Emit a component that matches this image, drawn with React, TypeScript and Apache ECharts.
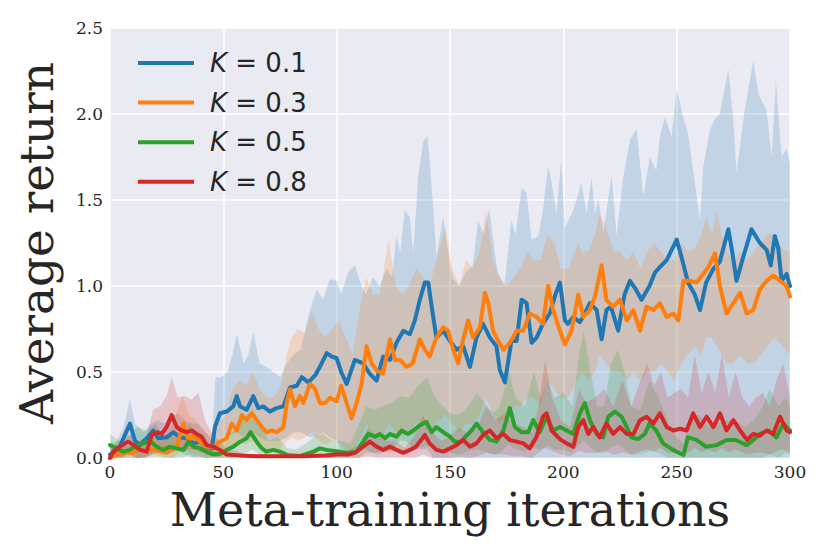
import React, { useEffect, useRef } from "react";
import * as echarts from "echarts";

// ---- data: [iteration, mean] ----
const names = ["K = 0.1", "K = 0.3", "K = 0.5", "K = 0.8"];
const colors = ["#1f77b4", "#ff7f0e", "#2ca02c", "#d62728"];
const xTicks = [0, 50, 100, 150, 200, 250, 300];
const yTicks = [0, 0.5, 1.0, 1.5, 2.0, 2.5];

const meanK01 = [
  [0, 0.02], [1.5, 0.03], [4.4, 0.07], [8.8, 0.2], [11, 0.1], [13.2, 0.075], [16.2, 0.115], [19.1, 0.16],
  [21.3, 0.115], [25, 0.12], [28, 0.15], [30.9, 0.12], [33.8, 0.115], [36.8, 0.085], [39.7, 0.095], [42.6, 0.066],
  [44.9, 0.056], [46.3, 0.18], [48.5, 0.26], [51.5, 0.27], [54.4, 0.3], [55.9, 0.36], [57.4, 0.3], [60.3, 0.28],
  [63.2, 0.36], [65.4, 0.29], [67.6, 0.3], [70.6, 0.27], [73.5, 0.29], [76.5, 0.3], [79.4, 0.41], [82.4, 0.42],
  [84.6, 0.47], [87.5, 0.44], [90.5, 0.48], [92.6, 0.53], [95.6, 0.61], [97.8, 0.59], [100, 0.58], [102, 0.5],
  [104.4, 0.43], [108, 0.57], [111.7, 0.55], [114.6, 0.49], [117.6, 0.45], [120.5, 0.59], [123.5, 0.57], [126.4, 0.67],
  [129.4, 0.74], [132.3, 0.72], [134.5, 0.8], [136.7, 0.92], [138.9, 1.02], [140.4, 1.02], [142.6, 0.82], [144, 0.7],
  [147, 0.74], [150, 0.68], [152.9, 0.63], [155.8, 0.65], [158.8, 0.53], [161.7, 0.7], [164.6, 0.78], [167.6, 0.7],
  [170.5, 0.65], [172, 0.51], [174.2, 0.44], [177.1, 0.68], [179.4, 0.68], [181.6, 0.92], [183.8, 0.9], [186, 0.67],
  [188.2, 0.7], [191, 0.78], [194, 0.84], [196.5, 0.95], [198.5, 1.02], [200.7, 0.8], [202, 0.78], [204.4, 0.82],
  [207.3, 0.79], [209.5, 0.84], [211.7, 0.9], [214.7, 0.86], [216.9, 0.69], [219, 0.86], [221, 0.88], [224.2, 0.74],
  [227, 0.95], [229.4, 1.03], [232, 0.98], [234.5, 0.92], [238, 1.0], [240.5, 1.08], [242.6, 1.11], [245.6, 1.15],
  [250, 1.27], [252.5, 1.15], [255, 1.02], [258, 0.95], [260.3, 0.86], [263, 1.02], [266.2, 1.1], [269, 1.14],
  [272.8, 1.33], [274.5, 1.2], [276.4, 1.03], [279.4, 1.17], [283, 1.33], [286.7, 1.25], [289.7, 1.21], [291.5, 1.12],
  [293.3, 1.29], [294.8, 1.22], [296.3, 1.03], [298.5, 1.07], [300, 1.0],
];

const meanK03 = [
  [0, 0.0], [3, 0.02], [7, 0.03], [10, 0.03], [13, 0.05], [16, 0.04], [19, 0.05], [22, 0.04], [25, 0.03],
  [29.4, 0.066], [32.4, 0.2], [34.6, 0.1], [36.8, 0.13], [39.7, 0.095], [42.6, 0.066], [45.6, 0.066], [48.5, 0.095],
  [51.5, 0.115], [53.7, 0.2], [56, 0.16], [58.1, 0.25], [60.3, 0.22], [62.5, 0.26], [64.7, 0.22], [67, 0.18],
  [69.1, 0.15], [71.3, 0.16], [73.5, 0.15], [76.5, 0.18], [78, 0.32], [79.4, 0.4], [81.6, 0.3], [83.8, 0.36],
  [85.3, 0.32], [88.2, 0.43], [90.5, 0.4], [92.6, 0.32], [94.9, 0.32], [97, 0.35], [100, 0.33], [102, 0.42],
  [104.4, 0.32], [106.6, 0.23], [108.8, 0.32], [111, 0.43], [113.2, 0.65], [115.4, 0.55], [117.6, 0.51], [120.5, 0.49],
  [123.5, 0.69], [125.7, 0.57], [128, 0.57], [130.8, 0.53], [133.5, 0.55], [136.7, 0.69], [138.9, 0.63], [141, 0.59],
  [144, 0.7], [147, 0.76], [149.2, 0.74], [151.4, 0.63], [153.6, 0.55], [155.8, 0.69], [158, 0.8], [160.2, 0.7],
  [163.2, 0.76], [165.4, 0.96], [166.9, 0.9], [169, 0.74], [171.3, 0.68], [173.5, 0.63], [176.4, 0.67], [179.4, 0.74],
  [182.3, 0.74], [185.2, 0.84], [188.2, 0.82], [191, 0.78], [193.3, 1.0], [195.5, 0.86], [198.5, 0.74], [200.7, 0.66],
  [203.6, 0.74], [206.6, 0.95], [208.8, 0.82], [211.7, 0.86], [214, 0.94], [216.9, 1.12], [219, 0.92], [222, 0.88],
  [225, 0.92], [228, 0.8], [230.9, 0.86], [233.8, 0.74], [236.7, 0.88], [239.7, 0.86], [242.6, 0.9], [245.6, 0.82],
  [248.5, 0.84], [250.7, 0.8], [253, 1.03], [255.8, 1.03], [258.8, 1.02], [261.7, 1.07], [264, 1.11], [266.9, 1.19],
  [269.1, 1.0], [272, 0.84], [275, 0.9], [278, 0.96], [280.9, 0.84], [283.8, 0.86], [286.7, 0.98], [289.7, 1.03],
  [292.6, 1.06], [295.6, 1.03], [298.5, 1.0], [300, 0.94],
];

const meanK05 = [
  [0, 0.075], [3, 0.056], [6, 0.037], [8.8, 0.047], [11.8, 0.075], [14.7, 0.085], [17.6, 0.1], [20.6, 0.066],
  [23.5, 0.047], [26.5, 0.066], [29.4, 0.056], [32.4, 0.047], [34.6, 0.095], [36.8, 0.066], [39.7, 0.056], [42.6, 0.037],
  [45.6, 0.02], [48.5, 0.025], [51.5, 0.047], [54.4, 0.066], [57.4, 0.095], [60.3, 0.115], [62, 0.15], [64.7, 0.095],
  [67, 0.056], [69, 0.037], [72, 0.047], [75, 0.037], [78, 0.018], [83.8, 0.012], [89.7, 0.037], [92.6, 0.056],
  [95.5, 0.047], [100, 0.04], [104.4, 0.03], [108.8, 0.037], [111.7, 0.095], [114, 0.14], [116.9, 0.124], [119, 0.14],
  [121.3, 0.115], [123.5, 0.14], [126.4, 0.124], [128.6, 0.16], [131.5, 0.14], [133.8, 0.16], [136.7, 0.19], [139.6, 0.21],
  [141.9, 0.15], [144, 0.18], [147, 0.15], [150, 0.124], [152, 0.095], [155, 0.095], [157.3, 0.13], [159.5, 0.16],
  [161.7, 0.2], [164.6, 0.15], [167.6, 0.105], [170.5, 0.095], [173.5, 0.16], [176.4, 0.29], [178.6, 0.18], [181.6, 0.15],
  [184.5, 0.15], [186.7, 0.22], [189.6, 0.15], [192.6, 0.24], [195.5, 0.16], [198.5, 0.18], [201.4, 0.16], [204.4, 0.14],
  [207.3, 0.26], [209.5, 0.32], [211.7, 0.22], [214.7, 0.14], [217.6, 0.12], [219.8, 0.24], [222.8, 0.27], [225.7, 0.24],
  [228, 0.18], [230, 0.12], [233, 0.11], [236, 0.14], [238, 0.2], [241, 0.16], [244, 0.085], [248.5, 0.046],
  [253, 0.017], [255, 0.12], [258.8, 0.105], [263, 0.065], [267.6, 0.075], [272, 0.105], [276, 0.105], [280.9, 0.075],
  [283.8, 0.105], [286.7, 0.14], [290.4, 0.16], [294, 0.12], [297, 0.2], [300, 0.16],
];

const meanK08 = [
  [0, 0.0], [1.5, 0.037], [4.4, 0.066], [8, 0.095], [10.5, 0.075], [13.2, 0.047], [16.2, 0.037], [18.4, 0.134],
  [20.6, 0.15], [22.8, 0.14], [25, 0.18], [27.2, 0.25], [29.4, 0.18], [31.6, 0.16], [33.8, 0.15], [36, 0.16],
  [38.2, 0.14], [40.4, 0.124], [42.6, 0.075], [45.6, 0.066], [48.5, 0.047], [51.5, 0.02], [57.4, 0.015], [65, 0.01],
  [75, 0.01], [85, 0.01], [95, 0.015], [100, 0.02], [105, 0.02], [108, 0.03], [111.7, 0.066], [114.6, 0.095],
  [117.6, 0.066], [120.5, 0.047], [123.5, 0.066], [126.4, 0.047], [129.4, 0.03], [132.3, 0.047], [135, 0.066], [138.9, 0.134],
  [141, 0.085], [144, 0.047], [147, 0.037], [150, 0.056], [152.9, 0.075], [155.8, 0.105], [158.8, 0.066], [161.7, 0.085],
  [164.6, 0.134], [167.6, 0.16], [170.5, 0.115], [173.5, 0.14], [176.4, 0.105], [179.4, 0.095], [182.3, 0.085], [185.2, 0.056],
  [188.2, 0.124], [191, 0.24], [192.6, 0.26], [194.8, 0.16], [198.5, 0.11], [201.4, 0.085], [204.4, 0.065], [206.6, 0.18],
  [208.8, 0.22], [211, 0.14], [213.2, 0.18], [216, 0.12], [219, 0.2], [222, 0.14], [225, 0.18], [228, 0.14],
  [231, 0.14], [233.8, 0.22], [236.7, 0.24], [239.7, 0.2], [242.6, 0.26], [245.6, 0.18], [248.5, 0.16], [251.5, 0.17],
  [254.4, 0.16], [257.3, 0.26], [260.3, 0.18], [263.2, 0.24], [266.2, 0.18], [269.1, 0.26], [272, 0.16], [275, 0.22],
  [278, 0.16], [281, 0.105], [283.8, 0.14], [286.7, 0.13], [289.7, 0.16], [292.6, 0.14], [295.6, 0.24], [298.5, 0.16], [300, 0.15],
];

// ---- confidence bands: [iteration, low, high] ----
const bandK01 = [
  [0, 0, 0.08], [3, 0, 0.1], [6, 0, 0.18], [8.8, 0.05, 0.34], [11, 0, 0.2], [15, 0, 0.15], [18, 0.02, 0.2],
  [21, 0.03, 0.22], [24, 0.02, 0.2], [27, 0.03, 0.24], [30, 0.04, 0.26], [33, 0.02, 0.22], [36, 0, 0.2], [39, 0.01, 0.2],
  [42, 0, 0.15], [45, 0, 0.1], [46.5, 0.04, 0.47], [49, 0.12, 0.47], [52, 0.12, 0.5], [54, 0.14, 0.6], [56, 0.15, 0.72],
  [59, 0.12, 0.55], [61, 0.12, 0.6], [63.2, 0.15, 0.73], [66, 0.12, 0.55], [69, 0.1, 0.53], [72, 0.1, 0.5], [75, 0.1, 0.47],
  [78, 0.12, 0.55], [81, 0.15, 0.6], [84, 0.15, 0.63], [88.2, 0.12, 0.86], [91.2, 0.12, 0.98], [94, 0.15, 0.92],
  [97, 0.12, 1.04], [100, 0.1, 1.03], [102, 0.05, 0.95], [105, 0.03, 1.08], [108, 0.05, 1.12], [111, 0.08, 1.0],
  [113, 0.05, 0.95], [116, 0.03, 1.05], [119, 0.02, 1.0], [122, 0.04, 1.1], [124.5, 0.05, 1.05], [126.4, 0.08, 1.29],
  [128, 0.1, 1.19], [130, 0.1, 1.44], [132.3, 0.08, 1.4], [133.8, 0.05, 1.19], [136, 0.05, 1.64], [138.2, 0.05, 1.84],
  [140, 0.05, 1.87], [141, 0.03, 1.73], [142.6, 0, 1.46], [144, 0, 1.17], [147, 0, 1.4], [149.2, 0, 1.19], [151, 0, 1.05],
  [154, 0, 1.0], [157, 0, 1.08], [160, 0, 1.12], [162.4, 0, 1.38], [165, 0, 1.3], [167.3, 0, 1.45], [169, 0, 1.27],
  [171, 0, 1.08], [174, 0, 1.0], [177, 0, 1.38], [179, 0, 1.3], [181.6, 0, 1.57], [183.8, 0, 1.54], [186, 0, 1.27],
  [189, 0, 1.29], [191, 0, 1.44], [193.3, 0, 1.7], [194.8, 0, 1.6], [197, 0, 1.42], [199, 0, 1.73], [200.7, 0, 1.34],
  [204.4, 0, 1.44], [208, 0, 1.6], [210.3, 0, 1.42], [212.5, 0, 1.63], [214, 0, 1.42], [215.4, 0, 1.51], [217.6, 0, 1.31],
  [221.3, 0, 1.64], [223.5, 0, 1.29], [226.4, 0, 1.63], [229.4, 0, 1.85], [232.3, 0, 1.91], [235.3, 0, 1.52],
  [238.2, 0, 1.75], [241, 0, 1.67], [242.6, 0, 1.87], [244.8, 0, 1.98], [247.8, 0, 1.87], [250, 0, 2.15], [252.9, 0, 1.98],
  [255, 0, 1.89], [257.3, 0, 1.67], [260.3, 0, 1.38], [261.7, 0, 1.69], [264.7, 0, 1.91], [266.9, 0, 1.97], [269, 0, 2.0],
  [272.8, 0, 2.26], [275, 0, 1.96], [276.4, 0, 1.66], [280, 0, 2.02], [283.8, 0, 2.31], [286, 0, 2.12], [288.2, 0, 2.06],
  [289.7, 0, 2.02], [291.9, 0, 1.75], [293.8, 0, 2.19], [296.3, 0, 1.75], [298.5, 0, 1.8], [300, 0, 1.71],
];

const bandK03 = [
  [0, 0, 0.05], [5, 0, 0.06], [10, 0, 0.08], [15, 0, 0.1], [20, 0, 0.12], [25, 0, 0.15], [28, 0, 0.22], [32, 0.05, 0.36],
  [35, 0.03, 0.25], [38, 0.02, 0.22], [42, 0, 0.15], [45, 0, 0.12], [48, 0, 0.2], [51, 0.02, 0.25], [54, 0.05, 0.4],
  [57, 0.08, 0.45], [60, 0.08, 0.42], [63, 0.1, 0.5], [66, 0.05, 0.4], [69, 0.03, 0.35], [72, 0.05, 0.35], [75, 0.05, 0.4],
  [78, 0.1, 0.6], [80, 0.12, 0.7], [83, 0.1, 0.75], [86, 0.12, 0.72], [89, 0.15, 0.85], [92, 0.1, 0.75], [95, 0.08, 0.7],
  [98, 0.1, 0.75], [101, 0.1, 0.8], [104, 0.05, 0.7], [107, 0.03, 0.6], [110, 0.1, 0.85], [113, 0.2, 1.05], [116, 0.15, 0.95],
  [119, 0.1, 0.95], [123, 0.2, 1.27], [126, 0.15, 1.0], [129, 0.12, 0.95], [132, 0.15, 1.0], [135, 0.2, 1.1], [138, 0.2, 1.05],
  [141, 0.15, 1.0], [144, 0.2, 1.15], [148, 0.25, 1.34], [151, 0.2, 1.1], [154, 0.15, 1.0], [157, 0.2, 1.15], [160, 0.2, 1.1],
  [163, 0.25, 1.2], [166, 0.35, 1.44], [169, 0.25, 1.15], [172, 0.2, 1.05], [175, 0.25, 1.0], [178, 0.3, 1.05], [181, 0.3, 1.1],
  [184, 0.35, 1.2], [187, 0.35, 1.15], [190, 0.3, 1.15], [193, 0.45, 1.3], [196, 0.4, 1.25], [199, 0.35, 1.1], [202, 0.35, 1.1],
  [206.6, 0.45, 1.25], [208, 0.5, 1.2], [211, 0.45, 1.2], [214, 0.5, 1.3], [216, 0.6, 1.42], [219, 0.55, 1.34], [222, 0.5, 1.2],
  [225, 0.5, 1.2], [228, 0.45, 1.15], [231, 0.5, 1.2], [234, 0.45, 1.1], [237, 0.5, 1.2], [240, 0.5, 1.25], [243, 0.55, 1.2],
  [246, 0.5, 1.15], [249, 0.45, 1.15], [252, 0.55, 1.25], [255, 0.6, 1.2], [258, 0.65, 1.22], [261, 0.6, 1.3], [263, 0.7, 1.4],
  [265.5, 0.7, 1.3], [267.6, 0.65, 1.43], [270, 0.6, 1.3], [272, 0.55, 1.2], [275, 0.55, 1.15], [278, 0.6, 1.2], [281, 0.55, 1.15],
  [284, 0.55, 1.2], [287, 0.6, 1.25], [290, 0.65, 1.3], [293, 0.7, 1.3], [297, 0.65, 1.21], [300, 0.6, 1.2],
];

const bandK05 = [
  [0, 0, 0.14], [4, 0, 0.1], [8, 0, 0.12], [12, 0, 0.18], [16, 0.01, 0.16], [20, 0.02, 0.2], [24, 0, 0.12], [28, 0, 0.14],
  [32, 0, 0.12], [35, 0.02, 0.2], [38, 0, 0.14], [42, 0, 0.1], [46, 0, 0.06], [50, 0, 0.1], [54, 0, 0.15], [57, 0.02, 0.22],
  [60, 0.03, 0.25], [63, 0.05, 0.28], [66, 0.02, 0.2], [70, 0, 0.1], [74, 0, 0.12], [78, 0, 0.06], [82, 0, 0.05], [86, 0, 0.08],
  [90, 0, 0.12], [94, 0, 0.14], [98, 0, 0.1], [102, 0, 0.1], [106, 0, 0.08], [110, 0, 0.2], [113, 0.03, 0.3], [117, 0.03, 0.28],
  [120, 0.04, 0.3], [124, 0.03, 0.32], [128, 0.05, 0.36], [132, 0.04, 0.35], [136, 0.06, 0.42], [140, 0.07, 0.47], [143, 0.05, 0.36],
  [147, 0.04, 0.3], [150, 0.03, 0.26], [154, 0.02, 0.25], [158, 0.04, 0.3], [162, 0.05, 0.38], [165, 0.04, 0.32], [169, 0.02, 0.26],
  [172, 0.03, 0.3], [176, 0.08, 0.5], [179, 0.05, 0.35], [183, 0.04, 0.3], [187, 0.06, 0.5], [190, 0.05, 0.35], [193, 0.07, 0.45],
  [196, 0.05, 0.35], [200, 0.05, 0.38], [204, 0.03, 0.3], [207, 0.08, 0.6], [209, 0.1, 0.74], [212, 0.06, 0.5], [215, 0.03, 0.3],
  [218, 0.03, 0.3], [221, 0.06, 0.55], [224, 0.08, 0.63], [227, 0.05, 0.5], [230, 0.02, 0.3], [234, 0.02, 0.28], [238, 0.04, 0.45],
  [242, 0.03, 0.35], [246, 0, 0.22], [250, 0, 0.12], [253, 0, 0.08], [256, 0, 0.25], [260, 0, 0.25], [264, 0, 0.18], [268, 0, 0.2],
  [272, 0, 0.22], [276, 0, 0.22], [280, 0, 0.18], [284, 0, 0.22], [288, 0, 0.3], [291, 0.02, 0.4], [295, 0, 0.3], [298, 0.03, 0.35],
  [300, 0.02, 0.3],
];

const bandK08 = [
  [0, 0, 0.05], [4, 0, 0.1], [8, 0.02, 0.14], [12, 0, 0.1], [16, 0, 0.12], [19, 0.03, 0.28], [22, 0.04, 0.3], [25, 0.06, 0.36],
  [27.2, 0.08, 0.47], [30, 0.06, 0.35], [33, 0.05, 0.36], [36, 0.05, 0.34], [39, 0.04, 0.38], [42, 0.02, 0.22], [45, 0.01, 0.14],
  [48, 0, 0.1], [52, 0, 0.05], [56, 0, 0.04], [60, 0, 0.02], [70, 0, 0.02], [80, 0, 0.02], [90, 0, 0.02], [100, 0, 0.03],
  [105, 0, 0.04], [110, 0, 0.08], [114, 0.01, 0.18], [118, 0, 0.12], [122, 0, 0.1], [126, 0, 0.1], [130, 0, 0.06], [134, 0, 0.12],
  [138, 0.02, 0.25], [142, 0, 0.15], [146, 0, 0.1], [150, 0, 0.12], [154, 0.01, 0.18], [158, 0, 0.14], [162, 0.01, 0.18],
  [166, 0.03, 0.3], [170, 0.02, 0.22], [174, 0.02, 0.26], [178, 0.01, 0.2], [182, 0.01, 0.18], [186, 0, 0.15], [189, 0.03, 0.3],
  [192, 0.06, 0.57], [195, 0.04, 0.35], [199, 0.02, 0.22], [203, 0.01, 0.18], [207, 0.04, 0.4], [210, 0.03, 0.32], [214, 0.03, 0.35],
  [218, 0.04, 0.4], [222, 0.02, 0.3], [226, 0.03, 0.45], [230, 0.02, 0.3], [234, 0.04, 0.45], [237, 0.05, 0.55], [240, 0.04, 0.42],
  [243, 0.06, 0.5], [246, 0.03, 0.35], [249, 0.03, 0.38], [252, 0.04, 0.4], [255, 0.03, 0.35], [258, 0.06, 0.6], [261, 0.03, 0.38],
  [264, 0.05, 0.5], [267, 0.03, 0.38], [270, 0.06, 0.6], [273, 0.03, 0.35], [276, 0.05, 0.5], [279, 0.03, 0.35], [282, 0.02, 0.3],
  [285, 0.03, 0.35], [288, 0.03, 0.38], [291, 0.02, 0.3], [294, 0.04, 0.45], [297, 0.05, 0.55], [300, 0.03, 0.35],
];

const means = [meanK01, meanK03, meanK05, meanK08];
const bands = [bandK01, bandK03, bandK05, bandK08];

const TEXT = "#262626";
const SERIF = "DejaVu Serif";

function hexToRgba(hex: string, a: number) {
  const n = parseInt(hex.slice(1), 16);
  return `rgba(${(n >> 16) & 255},${(n >> 8) & 255},${n & 255},${a})`;
}

function bandSeries(band: number[][], color: string) {
  return {
    type: "custom",
    coordinateSystem: "cartesian2d",
    silent: true,
    clip: true,
    data: [[band[0][0], band[0][1]]],
    renderItem: (_params: any, api: any) => {
      const pts: number[][] = [];
      for (const [x, , hi] of band) pts.push(api.coord([x, hi]));
      for (let i = band.length - 1; i >= 0; i--) pts.push(api.coord([band[i][0], band[i][1]]));
      return {
        type: "polygon",
        shape: { points: pts },
        style: { fill: hexToRgba(color, 0.2), stroke: null },
      };
    },
  };
}

export default function App() {
  const ref = useRef<HTMLDivElement>(null);
  useEffect(() => {
    const chart = echarts.init(ref.current!, null, { renderer: "svg" });
    const series: any[] = [];
    means.forEach((m, i) => {
      series.push({
        name: names[i],
        type: "line",
        data: m,
        showSymbol: false,
        symbol: "none",
        lineStyle: { color: colors[i], width: 4, cap: "round", join: "round" },
        itemStyle: { color: colors[i] },
      });
      series.push(bandSeries(bands[i], colors[i]));
    });
    chart.setOption({
      animation: false,
      backgroundColor: "#ffffff",
      grid: { left: 110, top: 28, right: 40, bottom: 96, backgroundColor: "#EAEAF2", show: true, borderWidth: 0 },
      legend: {
        data: names,
        orient: "vertical",
        left: 133,
        top: 43,
        icon: "rect",
        itemWidth: 56,
        itemHeight: 4,
        itemGap: 9.6,
        formatter: (name: string) => "{i|K}" + name.slice(1),
        textStyle: {
          fontFamily: "DejaVu Sans",
          fontSize: 26,
          color: TEXT,
          lineHeight: 30,
          padding: [0, 0, 0, 11],
          rich: { i: { fontFamily: "DejaVu Sans", fontStyle: "italic", fontSize: 26, color: TEXT, lineHeight: 30 } },
        },
      },
      xAxis: {
        type: "value",
        min: 0,
        max: 300,
        interval: 50,
        name: "Meta-training iterations",
        nameLocation: "middle",
        nameGap: 29,
        nameTextStyle: { fontFamily: SERIF, fontSize: 46, color: TEXT },
        axisLine: { show: false },
        axisTick: { show: false },
        axisLabel: {
          fontFamily: SERIF,
          fontSize: 17,
          color: TEXT,
          margin: 5,
          formatter: (v: number) => (xTicks.includes(v) ? String(v) : ""),
        },
        splitLine: { show: true, lineStyle: { color: "#ffffff", width: 1.5 } },
      },
      yAxis: {
        type: "value",
        min: 0,
        max: 2.5,
        interval: 0.5,
        name: "Average return",
        nameLocation: "middle",
        nameGap: 50,
        nameRotate: 90,
        nameTextStyle: { fontFamily: SERIF, fontSize: 47, color: TEXT },
        axisLine: { show: false },
        axisTick: { show: false },
        axisLabel: {
          fontFamily: SERIF,
          fontSize: 17,
          color: TEXT,
          margin: 7,
          formatter: (v: number) => (yTicks.some((t) => Math.abs(t - v) < 1e-9) ? v.toFixed(1) : ""),
        },
        splitLine: { show: true, lineStyle: { color: "#ffffff", width: 1.5 } },
      },
      series,
    });
    return () => chart.dispose();
  }, []);
  return <div ref={ref} style={{ position: "fixed", left: 0, top: 0, width: 830, height: 554 }} />;
}
